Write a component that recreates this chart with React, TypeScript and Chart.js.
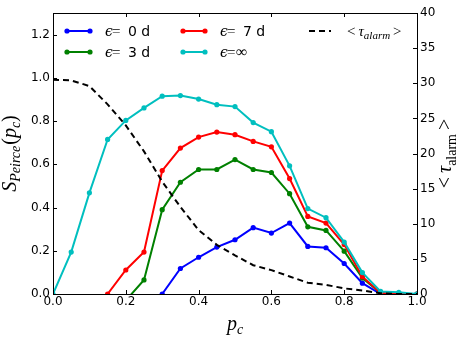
import React, { useEffect, useRef } from "react";
import { Chart, registerables } from "chart.js";

Chart.register(...registerables);

// ---- data ----
const pc = [0, 0.05, 0.1, 0.15, 0.2, 0.25, 0.3, 0.35, 0.4, 0.45, 0.5, 0.55, 0.6, 0.65, 0.7, 0.75, 0.8, 0.85, 0.9, 0.95, 1.0];
const eps0 = [null, null, null, null, null, null, 0.0, 0.118, 0.17, 0.217, 0.251, 0.307, 0.282, 0.328, 0.22, 0.214, 0.141, 0.05, 0.0, 0.0, 0.0];
const eps3 = [null, null, null, null, -0.03, 0.065, 0.39, 0.517, 0.576, 0.576, 0.622, 0.576, 0.562, 0.464, 0.311, 0.294, 0.198, 0.074, 0.005, 0.0, 0.0];
const eps7 = [null, null, null, 0.0, 0.111, 0.194, 0.571, 0.675, 0.726, 0.749, 0.737, 0.706, 0.681, 0.534, 0.359, 0.328, 0.229, 0.08, 0.005, 0.0, 0.0];
const epsInf = [0.0, 0.194, 0.468, 0.715, 0.803, 0.861, 0.915, 0.918, 0.902, 0.876, 0.867, 0.793, 0.751, 0.593, 0.395, 0.353, 0.24, 0.099, 0.012, 0.008, 0.0];
const tauAlarm = [30.5, 30.4, 29.6, 27.0, 24.0, 20.3, 16.0, 12.4, 9.1, 7.0, 5.5, 4.1, 3.4, 2.5, 1.6, 1.3, 0.8, 0.5, 0.1, 0.0, 0.0];

const xTicks = [0, 0.2, 0.4, 0.6, 0.8, 1.0];
const yTicks = [0, 0.2, 0.4, 0.6, 0.8, 1.0, 1.2];
const y2Ticks = [0, 5, 10, 15, 20, 25, 30, 35, 40];

const BLUE = "#0000ff";
const GREEN = "#008000";
const RED = "#ff0000";
const CYAN = "#00bfbf";

const SERIF = '"Liberation Serif", "DejaVu Serif", serif';
const SANS = '"DejaVu Sans", sans-serif';

type Piece = { t: string; f: string; dy?: number; gap?: number };

function drawPieces(ctx: CanvasRenderingContext2D, pieces: Piece[], x: number, y: number, rot: number, center: boolean) {
  ctx.save();
  ctx.translate(x, y);
  ctx.rotate(rot);
  ctx.textBaseline = "alphabetic";
  ctx.textAlign = "left";
  ctx.fillStyle = "#000";
  const widths = pieces.map((p) => {
    ctx.font = p.f;
    return ctx.measureText(p.t).width;
  });
  const total = widths.reduce((a, b) => a + b, 0) + pieces.reduce((a, p) => a + (p.gap || 0), 0);
  let cx = center ? -total / 2 : 0;
  pieces.forEach((p, i) => {
    cx += p.gap || 0;
    ctx.font = p.f;
    ctx.fillText(p.t, cx, p.dy || 0);
    cx += widths[i];
  });
  ctx.restore();
}

function series(vals: (number | null)[]) {
  return pc.map((x, i) => ({ x, y: vals[i] }));
}

const overlay = {
  id: "overlay",
  afterDraw(chart: any) {
    const ctx: CanvasRenderingContext2D = chart.ctx;
    const ca = chart.chartArea;
    const xs = chart.scales.x;
    const ys = chart.scales.y;
    const y2 = chart.scales.y2;
    ctx.save();

    const rows = [31, 52];
    const handle = (x0: number, x1: number, y: number, color: string) => {
      ctx.strokeStyle = color;
      ctx.lineWidth = 2;
      ctx.setLineDash([]);
      ctx.beginPath();
      ctx.moveTo(x0, y);
      ctx.lineTo(x1, y);
      ctx.stroke();
      ctx.fillStyle = color;
      [x0, x1].forEach((px) => {
        ctx.beginPath();
        ctx.arc(px, y, 2.6, 0, Math.PI * 2);
        ctx.fill();
      });
    };
    const epsLabel = (tx: number, y: number, val: string, isInf: boolean) => {
      const base = y + 5;
      drawPieces(ctx, [{ t: "\u03f5", f: `italic 14px "DejaVu Serif", serif` }], tx, base, 0, false);
      drawPieces(ctx, [{ t: "=", f: `15px ${SERIF}` }], tx + 7, base, 0, false);
      if (isInf) {
        drawPieces(ctx, [{ t: "\u221e", f: `16px ${SERIF}` }], tx + 16, base, 0, false);
      } else {
        drawPieces(ctx, [{ t: val, f: `14px ${SANS}` }], tx + 23, base, 0, false);
      }
    };
    handle(67, 90, rows[0], BLUE);
    epsLabel(105, rows[0], "0 d", false);
    handle(67, 90, rows[1], GREEN);
    epsLabel(105, rows[1], "3 d", false);
    handle(183, 205, rows[0], RED);
    epsLabel(220, rows[0], "7 d", false);
    handle(183, 205, rows[1], CYAN);
    epsLabel(220, rows[1], "", true);

    // dashed handle
    ctx.strokeStyle = "#000";
    ctx.lineWidth = 2;
    ctx.setLineDash([6, 4]);
    ctx.beginPath();
    ctx.moveTo(309, rows[0]);
    ctx.lineTo(331, rows[0]);
    ctx.stroke();
    ctx.setLineDash([]);
    drawPieces(
      ctx,
      [
        { t: "<", f: `15px ${SERIF}` },
        { t: "\u03c4", f: `italic 15px ${SERIF}`, gap: 3 },
        { t: "alarm", f: `italic 11px ${SERIF}`, dy: 3 },
        { t: ">", f: `15px ${SERIF}`, gap: 3 },
      ],
      347,
      rows[0] + 5,
      0,
      false
    );

    // top spine
    ctx.strokeStyle = "#000";
    ctx.lineWidth = 1;
    ctx.beginPath();
    ctx.moveTo(ca.left, Math.round(ca.top) + 0.5);
    ctx.lineTo(ca.right, Math.round(ca.top) + 0.5);
    ctx.stroke();

    // inward ticks
    const TL = 4;
    ctx.beginPath();
    xTicks.forEach((v) => {
      const px = Math.round(xs.getPixelForValue(v)) + 0.5;
      ctx.moveTo(px, ca.bottom);
      ctx.lineTo(px, ca.bottom - TL);
      ctx.moveTo(px, ca.top);
      ctx.lineTo(px, ca.top + TL);
    });
    yTicks.forEach((v) => {
      const py = Math.round(ys.getPixelForValue(v)) + 0.5;
      ctx.moveTo(ca.left, py);
      ctx.lineTo(ca.left + TL, py);
    });
    y2Ticks.forEach((v) => {
      const py = Math.round(y2.getPixelForValue(v)) + 0.5;
      ctx.moveTo(ca.right, py);
      ctx.lineTo(ca.right - TL, py);
    });
    ctx.stroke();

    // axis titles
    const midY = (ca.top + ca.bottom) / 2;
    drawPieces(
      ctx,
      [
        { t: "p", f: `italic 20px ${SERIF}` },
        { t: "c", f: `italic 14px ${SERIF}`, dy: 4 },
      ],
      (ca.left + ca.right) / 2,
      330,
      0,
      true
    );
    drawPieces(
      ctx,
      [
        { t: "S", f: `italic 20px ${SERIF}` },
        { t: "Peirce", f: `italic 14px ${SERIF}`, dy: 4 },
        { t: "(", f: `20px ${SERIF}`, gap: 1 },
        { t: "p", f: `italic 20px ${SERIF}` },
        { t: "c", f: `italic 14px ${SERIF}`, dy: 4 },
        { t: ")", f: `20px ${SERIF}` },
      ],
      16,
      midY,
      -Math.PI / 2,
      true
    );
    drawPieces(
      ctx,
      [
        { t: "<", f: `20px ${SERIF}` },
        { t: "\u03c4", f: `italic 20px ${SERIF}`, gap: 4 },
        { t: "alarm", f: `14px ${SERIF}`, dy: 5 },
        { t: ">", f: `20px ${SERIF}`, gap: 4 },
      ],
      451,
      midY,
      -Math.PI / 2,
      true
    );
    ctx.restore();
  },
};

export default function App() {
  const ref = useRef<HTMLCanvasElement | null>(null);
  useEffect(() => {
    document.body.style.margin = "0";
    const canvas = ref.current;
    if (!canvas) return;
    Chart.defaults.font.family = SANS;
    const lineDs = (label: string, vals: (number | null)[], color: string, order: number) => ({
      label,
      data: series(vals),
      borderColor: color,
      backgroundColor: color,
      borderWidth: 2,
      pointRadius: 2.6,
      pointBorderWidth: 0,
      pointBackgroundColor: color,
      yAxisID: "y",
      clip: 0,
      order,
      tension: 0,
    });
    const chart = new Chart(canvas, {
      type: "line",
      data: {
        datasets: [
          {
            label: "tau",
            data: series(tauAlarm),
            borderColor: "#000",
            borderWidth: 2,
            borderDash: [6, 4],
            pointRadius: 0,
            yAxisID: "y2",
            clip: 0,
            order: 0,
          } as any,
          lineDs("inf", epsInf, CYAN, 1),
          lineDs("7d", eps7, RED, 2),
          lineDs("3d", eps3, GREEN, 3),
          lineDs("0d", eps0, BLUE, 4),
        ],
      },
      options: {
        responsive: false,
        animation: false,
        devicePixelRatio: 1,
        layout: { padding: { top: 13, left: 0, right: 0, bottom: 0 } },
        plugins: { legend: { display: false }, tooltip: { enabled: false } },
        scales: {
          x: {
            type: "linear",
            min: 0,
            max: 1,
            grid: { display: false, drawTicks: false },
            border: { display: true, color: "#000", width: 1 },
            ticks: {
              stepSize: 0.2,
              maxRotation: 0,
              autoSkip: false,
              padding: 1,
              color: "#000",
              font: { size: 12, family: SANS },
              callback: (v: any) => Number(v).toFixed(1),
            },
            afterBuildTicks: (s: any) => {
              s.ticks = xTicks.map((v) => ({ value: v }));
            },
            afterFit: (s: any) => {
              s.height = 45;
            },
          },
          y: {
            type: "linear",
            position: "left",
            min: 0,
            max: 1.3,
            grid: { display: false, drawTicks: false },
            border: { display: true, color: "#000", width: 1 },
            ticks: {
              padding: 3,
              color: "#000",
              font: { size: 12, family: SANS },
              callback: (v: any) => Number(v).toFixed(1),
            },
            afterBuildTicks: (s: any) => {
              s.ticks = yTicks.map((v) => ({ value: v }));
            },
            afterFit: (s: any) => {
              s.width = 53;
            },
          },
          y2: {
            type: "linear",
            position: "right",
            min: 0,
            max: 40,
            grid: { display: false, drawTicks: false },
            border: { display: true, color: "#000", width: 1 },
            ticks: {
              padding: 3,
              color: "#000",
              font: { size: 12, family: SANS },
              callback: (v: any) => String(v),
            },
            afterBuildTicks: (s: any) => {
              s.ticks = y2Ticks.map((v) => ({ value: v }));
            },
            afterFit: (s: any) => {
              s.width = 46;
            },
          },
        },
      } as any,
      plugins: [overlay as any],
    });
    return () => chart.destroy();
  }, []);
  return (
    <div style={{ position: "absolute", left: 0, top: 0, width: 463, height: 339, background: "#fff" }}>
      <canvas ref={ref} width={463} height={339} style={{ width: 463, height: 339, display: "block" }} />
    </div>
  );
}
